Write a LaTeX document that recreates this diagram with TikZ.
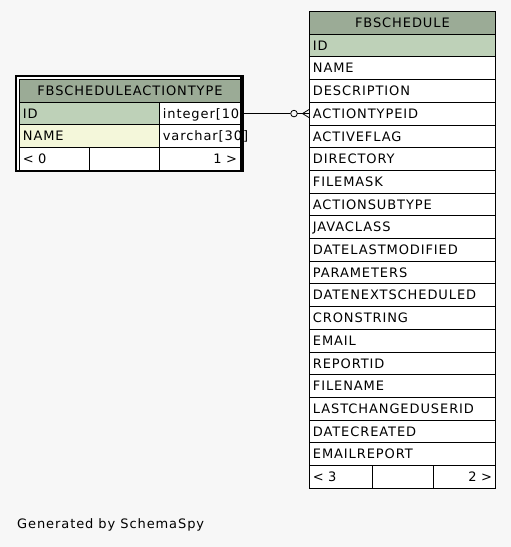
\documentclass[tikz,border=0pt]{standalone}
\usepackage{fontspec}
\usepackage{tikz}
\usetikzlibrary{positioning}
\newfontfamily\erdfamily{DejaVu Sans}[LetterSpace=7]
\newcommand\erdfont{\erdfamily\fontsize{13}{15}\selectfont}
\definecolor{headbg}{HTML}{9BAB96}
\definecolor{pkbg}{HTML}{BED1B8}
\definecolor{idxbg}{HTML}{F4F7DA}
\definecolor{pagebg}{HTML}{F7F7F7}

\begin{document}
\begin{tikzpicture}[x=1pt, y=-1pt,
        cell/.style={draw=black, line width=0.8pt, anchor=north west,
            inner xsep=3.5pt, inner ysep=0pt, minimum height=22.7pt,
            text height=9.5pt, text depth=0pt, font=\erdfont},
        lcell/.style={cell, fill=white, text width=#1, align=left},
        rcell/.style={cell, fill=white, text width=#1, align=right},
        hcell/.style={cell, fill=headbg, text width=#1, align=center}]
        % page and frame of the focused table
        \fill[pagebg] (0,0) rectangle (511,547);
        \useasboundingbox (0,0) rectangle (511,547);
        \fill[black] (15,75) rectangle (244,172);
        \fill[white] (17,77) rectangle (240,170);
        % FBSCHEDULEACTIONTYPE
        \node[hcell=214pt] (act-head) at (19,79) {FBSCHEDULEACTIONTYPE};
        \node[lcell=133pt, fill=pkbg] (act-id) at (19,101.7) {ID};
        \node[lcell=74pt] (act-idtype) at (159,101.7) {integer[10};
        \node[lcell=133pt, fill=idxbg] (act-name) at (19,124.4) {NAME};
        \node[lcell=74pt] (act-nametype) at (159,124.4) {varchar[30]};
        \node[lcell=63pt] (act-fl) at (19,147.1) {< 0};
        \node[lcell=63pt] (act-fm) at (89,147.1) {};
        \node[rcell=74pt] (act-fr) at (159,147.1) {1 >};
        % FBSCHEDULE
        \node[hcell=179pt] (fbs-0) at (309,11) {FBSCHEDULE};
        \node[lcell=179pt, fill=pkbg] (fbs-1) at (309,33.7) {ID};
        \foreach \col [count=\k from 2] in {NAME, DESCRIPTION, ACTIONTYPEID,
            ACTIVEFLAG, DIRECTORY, FILEMASK, ACTIONSUBTYPE, JAVACLASS,
            DATELASTMODIFIED, PARAMETERS, DATENEXTSCHEDULED, CRONSTRING, EMAIL,
            REPORTID, FILENAME, LASTCHANGEDUSERID, DATECREATED, EMAILREPORT}
            \node[lcell=179pt] (fbs-\k) at (309,11+22.7*\k) {\col};
        \node[lcell=56pt] (fbs-fl) at (309,465) {< 3};
        \node[lcell=54pt] (fbs-fm) at (372,465) {};
        \node[rcell=55pt] (fbs-fr) at (433,465) {2 >};
        % relationship
        \draw[line width=0.8pt] (act-idtype.east) -- ([xshift=-18.3pt]fbs-4.west);
        \draw[line width=0.8pt, fill=pagebg] ([xshift=-15pt]fbs-4.west) circle (3.3pt);
        \draw[line width=0.8pt] ([xshift=-11.7pt]fbs-4.west) -- (fbs-4.west);
        \draw[line width=0.8pt] ([yshift=4pt]fbs-4.west) -- ([xshift=-6.5pt]fbs-4.west)
            -- ([yshift=-4pt]fbs-4.west);
        \node[anchor=base west, inner sep=0pt, font=\erdfont] (gen) at (17,528)
            {Generated by SchemaSpy};
\end{tikzpicture}
\end{document}
